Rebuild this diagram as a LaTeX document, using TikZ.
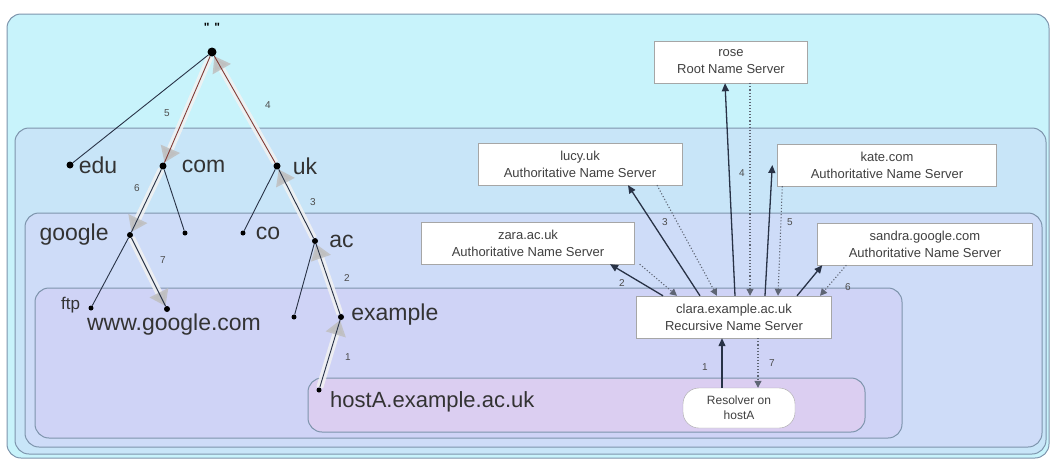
\documentclass[tikz,border=0pt]{standalone}
\usepackage{fontspec}
\setmainfont{Liberation Sans}
\usetikzlibrary{positioning,arrows.meta}

\definecolor{zoneroot}{RGB}{200,243,251}
\definecolor{zonetld}{RGB}{200,229,248}
\definecolor{zonesld}{RGB}{206,220,248}
\definecolor{zonehost}{RGB}{207,211,246}
\definecolor{zonelocal}{RGB}{219,206,241}
\definecolor{zoneline}{RGB}{125,148,172}
\definecolor{pathred}{RGB}{130,60,55}
\definecolor{wire}{RGB}{40,50,70}

\tikzset{
  zone/.style={draw=zoneline,line width=1pt,rounded corners=14pt},
  dot/.style={circle,fill=black,inner sep=0pt,minimum size=7pt},
  smalldot/.style={circle,fill=black,inner sep=0pt,minimum size=5pt},
  dname/.style={inner sep=0pt,text=black!80,font=\fontsize{23}{25}\selectfont},
  stepnum/.style={inner sep=0pt,text=black!70,font=\fontsize{10}{12}\selectfont},
  branch/.style={line width=0.9pt,wire},
  query/.style={line width=7pt,white!90!gray,opacity=0.85,
    -{Triangle[length=15pt,width=20pt,color=gray!50]}},
  server/.style={draw=gray!70,fill=white,align=center,inner sep=2pt,
    minimum height=42pt,text=black!75,font=\fontsize{13}{17}\selectfont},
  ask/.style={-{Triangle[length=8pt,width=7pt]},line width=1.3pt,wire},
  answer/.style={-{Triangle[length=7pt,width=7pt]},dotted,line width=1.1pt,wire!75},
}

\begin{document}
\begin{tikzpicture}[x=1pt,y=-1pt]
  \useasboundingbox (0,0) rectangle (1050,459);
  % zones
  \draw[zone,fill=zoneroot] (7,14) rectangle (1049,458);
  \draw[zone,fill=zonetld] (15,128) rectangle (1046,454);
  \draw[zone,fill=zonesld] (25,213) rectangle (1042,447);
  \draw[zone,fill=zonehost] (35,288) rectangle (902,438);
  \draw[zone,fill=zonelocal] (308,378) rectangle (865,432);

  % name tree
  \node[dot,minimum size=9pt] (root) at (212,52) {};
  \node[dot] (edu) at (70,165) {};
  \node[dot] (com) at (163,166) {};
  \node[dot] (uk) at (277,166) {};
  \node[smalldot,minimum size=6pt] (google) at (130,235) {};
  \node[smalldot] (comleaf) at (185,233) {};
  \node[smalldot] (co) at (243,233) {};
  \node[dot,minimum size=6pt] (ac) at (315,241) {};
  \node[smalldot] (ftp) at (91,308) {};
  \node[smalldot,minimum size=6pt] (www) at (167,309) {};
  \node[smalldot] (acleaf) at (294,317) {};
  \node[smalldot,minimum size=6pt] (example) at (341,317) {};
  \node[smalldot] (hostA) at (319,390) {};

  \draw[query] (hostA) -- (example);
  \draw[query] (example) -- (ac);
  \draw[query] (ac) -- (uk);
  \draw[query] (uk) -- (root);
  \draw[query] (root) -- (com);
  \draw[query] (com) -- (google);
  \draw[query] (google) -- (www);

  \draw[branch] (root) -- (edu);
  \draw[branch,pathred] (root) -- (com);
  \draw[branch,pathred] (root) -- (uk);
  \draw[branch] (com) -- (google);
  \draw[branch] (com) -- (comleaf);
  \draw[branch] (uk) -- (co);
  \draw[branch] (uk) -- (ac);
  \draw[branch] (google) -- (ftp);
  \draw[branch] (google) -- (www);
  \draw[branch] (ac) -- (acleaf);
  \draw[branch] (ac) -- (example);
  \draw[branch] (example) -- (hostA);

  \node[inner sep=0pt,font=\fontsize{12}{12}\bfseries] (rootname) at (212,27) {\textquotedbl\hspace{5pt}\textquotedbl};
  \node[dname,right=5pt of edu] (edutext) {edu};
  \node[dname,right=15pt of com] (comtext) {com};
  \node[dname,right=12pt of uk] (uktext) {uk};
  \node[dname,left=18pt of google] (googletext) {google};
  \node[dname,right=10pt of co] (cotext) {co};
  \node[dname,right=11pt of ac] (actext) {ac};
  \node[dname,left=8pt of ftp,yshift=3pt,font=\fontsize{17}{19}\selectfont] (ftptext) {ftp};
  \node[dname] (wwwtext) at (174,325) {www.google.com};
  \node[dname,right=7pt of example,yshift=2pt] (exampletext) {example};
  \node[dname,anchor=west,font=\fontsize{22}{24}\selectfont] (hostAtext) at (330,402) {hostA.example.ac.uk};

  \node[stepnum] (t1) at (348,357) {1};
  \node[stepnum] (t2) at (347,278) {2};
  \node[stepnum] (t3) at (313,202) {3};
  \node[stepnum] (t4) at (268,105) {4};
  \node[stepnum] (t5) at (167,113) {5};
  \node[stepnum] (t6) at (137,188) {6};
  \node[stepnum] (t7) at (163,260) {7};

  % name servers
  \node[server,minimum width=153pt] (rose) at (731,62) {rose\\Root Name Server};
  \node[server,minimum width=204pt] (lucy) at (580,164) {lucy.uk\\Authoritative Name Server};
  \node[server,minimum width=219pt] (kate) at (887,165) {kate.com\\Authoritative Name Server};
  \node[server,minimum width=213pt] (zara) at (528,243) {zara.ac.uk\\Authoritative Name Server};
  \node[server,minimum width=215pt] (sandra) at (925,244) {sandra.google.com\\Authoritative Name Server};
  \node[server,minimum width=195pt] (clara) at (734,317) {clara.example.ac.uk\\Recursive Name Server};
  \node[server,minimum width=112pt,minimum height=40pt,rounded corners=16pt,
    font=\fontsize{12}{15}\selectfont] (resolver) at (739,408) {Resolver on\\hostA};

  \draw[ask] ([xshift=-17pt]resolver.north) -- ([xshift=-12pt]clara.south);
  \draw[ask] ([xshift=-71pt]clara.north) -- ([xshift=82pt]zara.south);
  \draw[ask] ([xshift=-34pt]clara.north) -- ([xshift=48pt]lucy.south);
  \draw[ask] ([xshift=1pt]clara.north) -- ([xshift=-6pt]rose.south);
  \draw[ask] ([xshift=31pt]clara.north) -- ([xshift=-5pt]kate.west);
  \draw[ask] ([xshift=63pt]clara.north) -- ([xshift=5pt]sandra.south west);

  \draw[answer] ([xshift=5pt]zara.south east) -- ([xshift=-57pt]clara.north);
  \draw[answer] ([xshift=77pt]lucy.south) -- ([xshift=-17pt]clara.north);
  \draw[answer] ([xshift=19pt]rose.south) -- ([xshift=16pt]clara.north);
  \draw[answer] ([xshift=5pt]kate.south west) -- ([xshift=44pt]clara.north);
  \draw[answer] ([xshift=29pt]sandra.south west) -- ([xshift=86pt]clara.north);
  \draw[answer] ([xshift=24pt]clara.south) -- ([xshift=19pt]resolver.north);

  \node[stepnum] (r1) at (705,367) {1};
  \node[stepnum] (r2) at (622,283) {2};
  \node[stepnum] (r3) at (665,222) {3};
  \node[stepnum] (r4) at (742,173) {4};
  \node[stepnum] (r5) at (790,222) {5};
  \node[stepnum] (r6) at (848,287) {6};
  \node[stepnum] (r7) at (772,363) {7};
\end{tikzpicture}
\end{document}
